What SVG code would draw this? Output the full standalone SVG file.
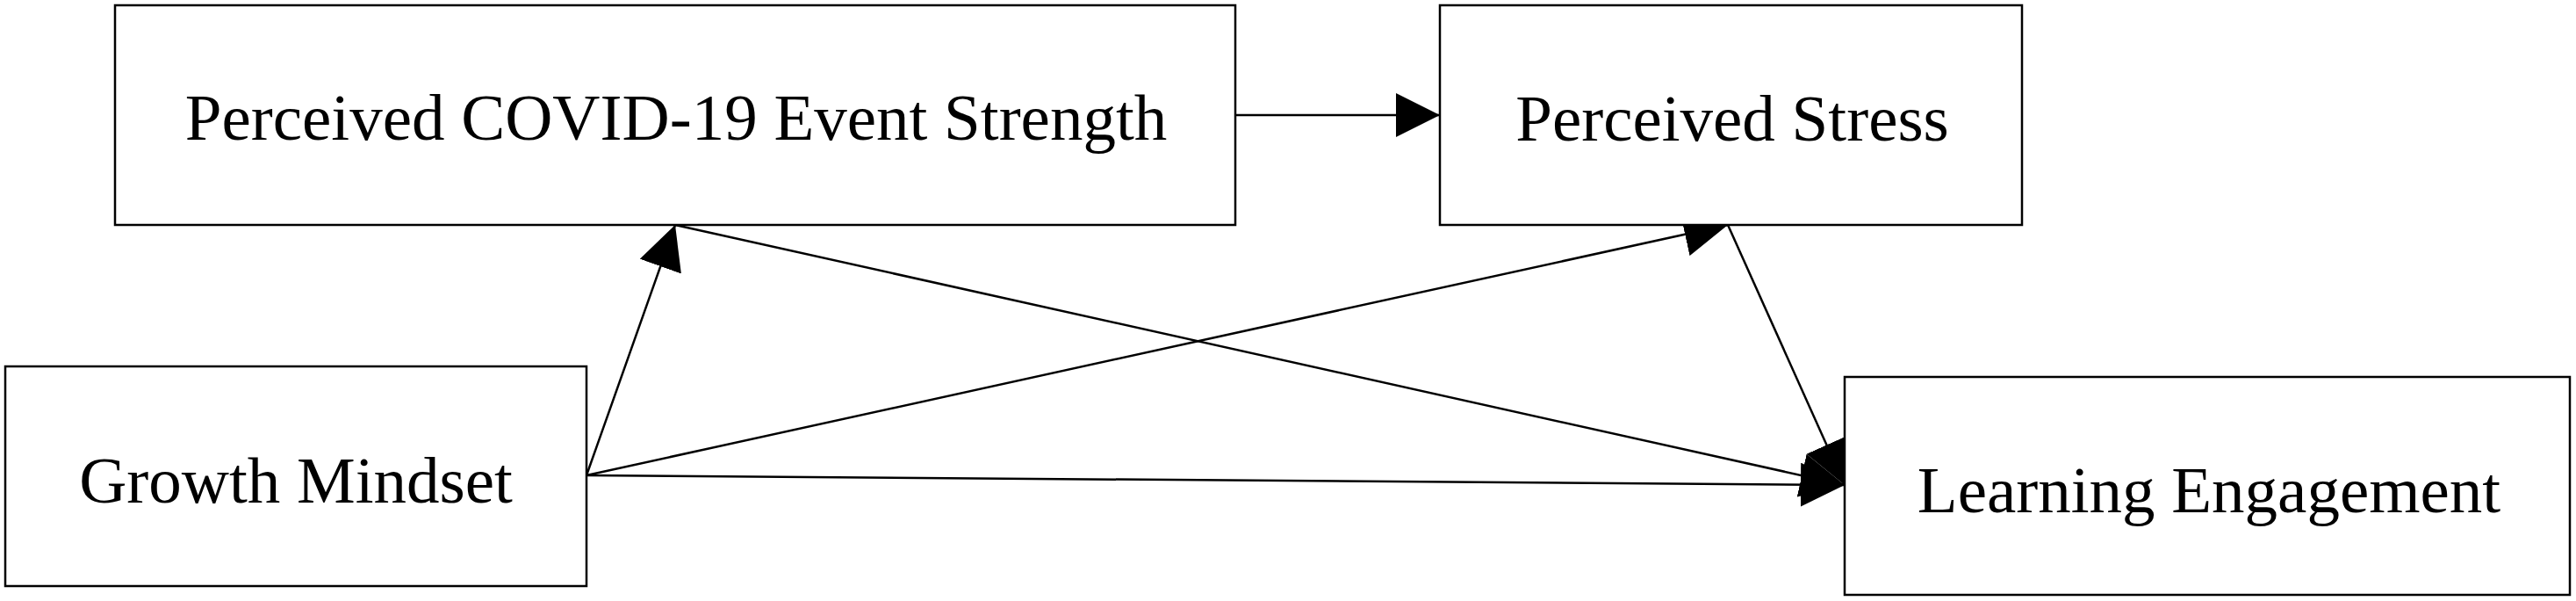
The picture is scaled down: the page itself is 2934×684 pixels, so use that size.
<svg xmlns="http://www.w3.org/2000/svg" width="2934" height="684" viewBox="0 0 2934 684">
<style>
.box{fill:#fff;stroke:#000;stroke-width:2.5}
.lbl{font-family:"Liberation Serif","Times New Roman",serif;font-size:75px;fill:#000;text-anchor:middle}
.edge{fill:none;stroke:#000;stroke-width:2.5;marker-end:url(#ah)}
</style>
<defs>
<marker id="ah" markerUnits="userSpaceOnUse" markerWidth="50" markerHeight="50" refX="50" refY="25" orient="auto" viewBox="0 0 50 50">
<path d="M0,0 L50,25 L0,50 z" fill="#000"/>
</marker>
</defs>
<rect width="2934" height="684" fill="#fff"/>
<g id="connectors">
<line class="edge" x1="1407" y1="131" x2="1640" y2="131"/>
<line class="edge" x1="668" y1="541" x2="769" y2="256"/>
<line class="edge" x1="668" y1="541" x2="1968" y2="256"/>
<line class="edge" x1="668" y1="541" x2="2101" y2="552"/>
<line class="edge" x1="769" y1="256" x2="2101" y2="552"/>
<line class="edge" x1="1968" y1="256" x2="2101" y2="552"/>
</g>
<g id="node-covid">
<rect class="box" x="131" y="6" width="1276" height="250"/>
<text class="lbl" x="770" y="159">Perceived COVID-19 Event Strength</text>
</g>
<g id="node-growth">
<rect class="box" x="6" y="417" width="662" height="250"/>
<text class="lbl" x="337" y="572">Growth Mindset</text>
</g>
<g id="node-stress">
<rect class="box" x="1640" y="6" width="663" height="250"/>
<text class="lbl" x="1973" y="160">Perceived Stress</text>
</g>
<g id="node-engagement">
<rect class="box" x="2101" y="429" width="826" height="248"/>
<text class="lbl" x="2516" y="583">Learning Engagement</text>
</g>
</svg>
